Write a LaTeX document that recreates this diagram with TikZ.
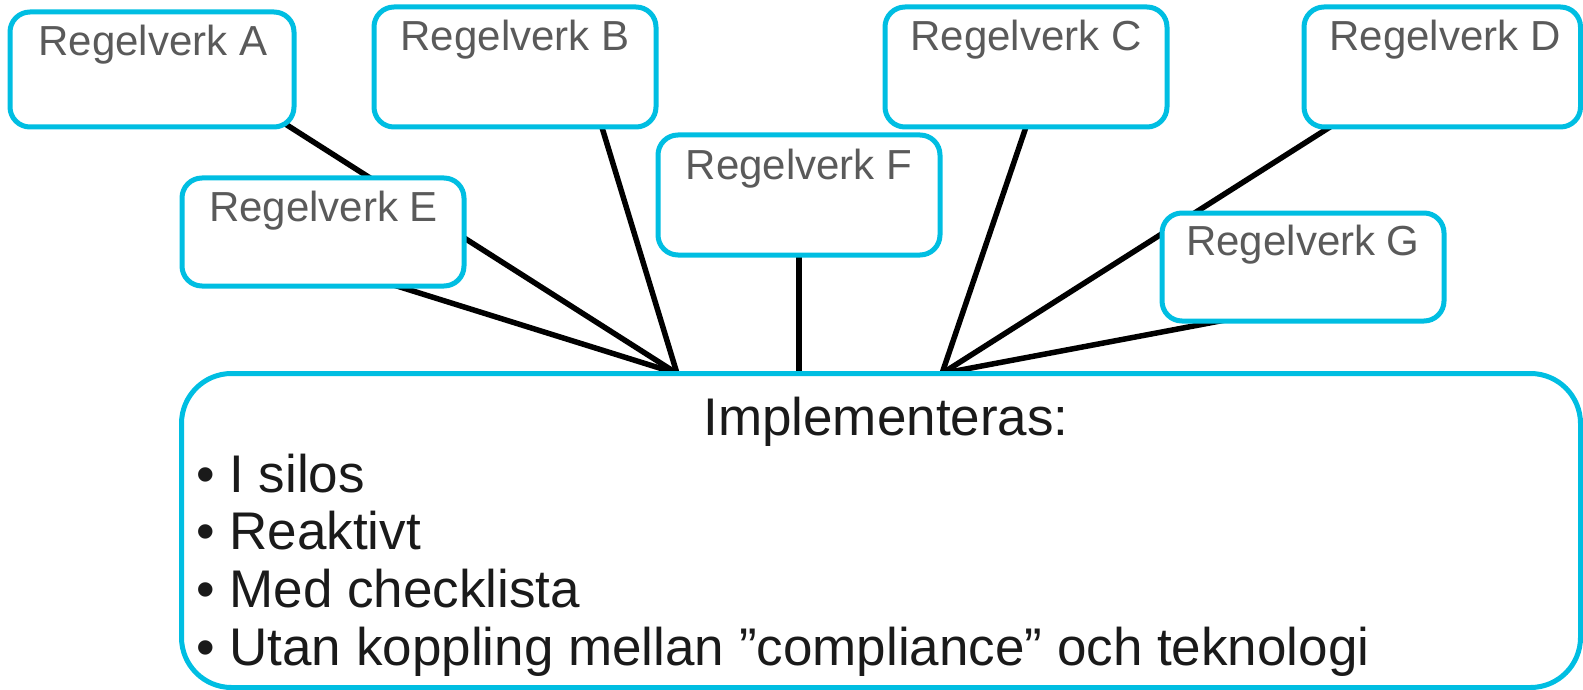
\documentclass[tikz,border=0pt]{standalone}
\usepackage{fontspec}
\setmainfont{Liberation Sans}
\usetikzlibrary{calc,backgrounds}
\definecolor{frame}{RGB}{0,190,226}
\definecolor{labelgray}{RGB}{90,90,90}
\definecolor{ink}{RGB}{26,26,26}

\begin{document}
\begin{tikzpicture}[x=1pt,y=-1pt,
  rulebox/.style={draw=frame, line width=5pt, fill=white, rounded corners=20pt,
                  inner sep=0pt, outer sep=0pt},
  mainbox/.style={draw=frame, line width=5pt, fill=white, rounded corners=50pt,
                  inner sep=0pt, outer sep=0pt},
  rulelabel/.style={anchor=base, text=labelgray, inner sep=0pt,
                    font=\fontsize{42}{50}\selectfont},
  headtext/.style={anchor=base, text=ink, inner sep=0pt,
                   font=\fontsize{53}{60}\selectfont},
  itemtext/.style={anchor=base west, text=ink, inner sep=0pt,
                   font=\fontsize{53}{60}\selectfont},
  link/.style={draw=black, line width=5.5pt}]

\useasboundingbox (0,0) rectangle (1583,690);

% regulation boxes
\node[rulebox, minimum width=284pt, minimum height=115pt] (A) at (152,69.5) {};
\node[rulebox, minimum width=282pt, minimum height=120pt] (B) at (515,67) {};
\node[rulebox, minimum width=282pt, minimum height=120pt] (C) at (1026,67) {};
\node[rulebox, minimum width=276.5pt, minimum height=120pt] (D) at (1442.25,67) {};
\node[rulebox, minimum width=282pt, minimum height=108pt] (E) at (323,232) {};
\node[rulebox, minimum width=282pt, minimum height=120pt] (F) at (799,195) {};
\node[rulebox, minimum width=282pt, minimum height=108pt] (G) at (1303,267) {};

\node[rulelabel] (tA) at (153,56) {Regelverk A};
\node[rulelabel] (tB) at (515,51) {Regelverk B};
\node[rulelabel] (tC) at (1026,51) {Regelverk C};
\node[rulelabel] (tD) at (1445,51) {Regelverk D};
\node[rulelabel] (tE) at (323.5,221) {Regelverk E};
\node[rulelabel] (tF) at (799,179) {Regelverk F};
\node[rulelabel] (tG) at (1303,255) {Regelverk G};

% implementation box
\node[mainbox, minimum width=1399pt, minimum height=314pt] (M) at (881,530.5) {};
\node[headtext] (title) at (886,435) {Implementeras:};
\node[itemtext] (i1) at (196,492.3) {• I silos};
\node[itemtext] (i2) at (196,549.9) {• Reaktivt};
\node[itemtext] (i3) at (196,607.4) {• Med checklista};
\node[itemtext] (i4) at (196,665) {• Utan koppling mellan ”compliance” och teknologi};

% meeting points on the top edge of the implementation box
\coordinate (hubL) at ($(M.north west)!0.3542!(M.north east)$);
\coordinate (hubR) at ($(M.north west)!0.5436!(M.north east)$);

% points where the connectors leave the regulation boxes
\coordinate (pA) at ($(A.south west)!0.986!(A.south east)$);
\coordinate (pB) at ($(B.south west)!0.808!(B.south east)$);
\coordinate (pC) at ($(C.south west)!0.5!(C.south east)$);
\coordinate (pD) at ($(D.south west)!0.094!(D.south east)$);
\coordinate (pE) at ($(E.south west)!0.762!(E.south east)$);
\coordinate (pG) at ($(G.south west)!0.206!(G.south east)$);

\begin{scope}[on background layer]
  \draw[link] ($(hubL)!1.1!(pA)$) -- (hubL);
  \draw[link] ($(hubL)!1.1!(pE)$) -- (hubL);
  \draw[link] ($(hubL)!1.1!(pB)$) -- (hubL);
  \draw[link] ([yshift=10pt]F.south) -- (F.south |- M.north);
  \draw[link] ($(hubR)!1.1!(pC)$) -- (hubR);
  \draw[link] ($(hubR)!1.1!(pD)$) -- (hubR);
  \draw[link] ($(hubR)!1.1!(pG)$) -- (hubR);
\end{scope}
\end{tikzpicture}
\end{document}
